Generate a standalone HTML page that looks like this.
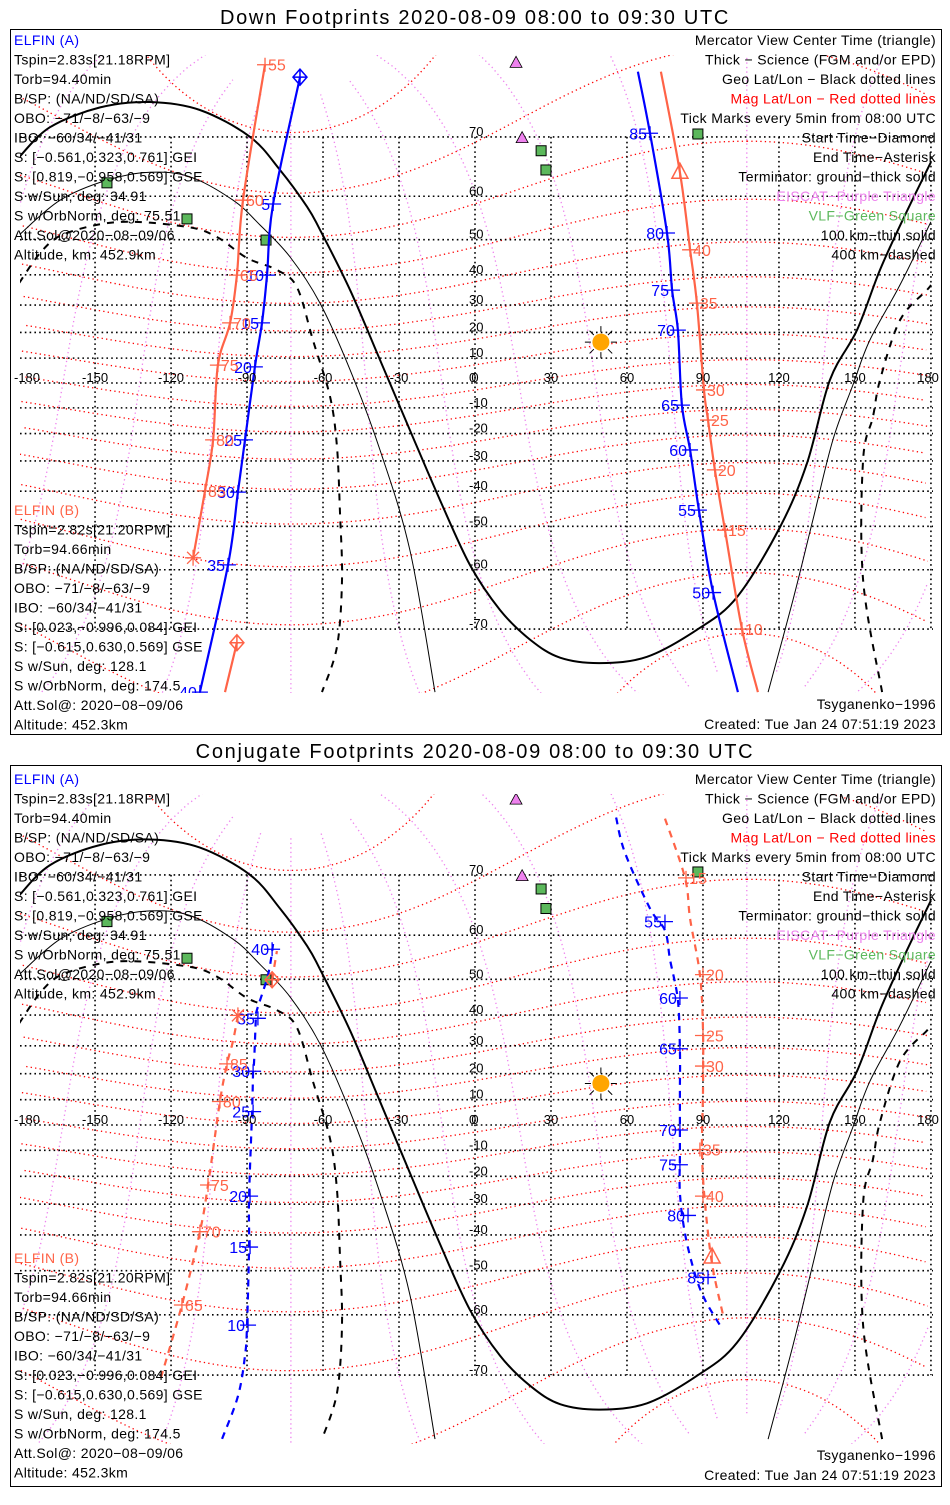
<!DOCTYPE html>
<html><head><meta charset="utf-8"><style>
html,body{margin:0;padding:0;background:#fff;}
svg text{font-family:"Liberation Sans",sans-serif;}
</style></head><body>
<svg id="chart" width="950" height="1500" viewBox="0 0 950 1500" xmlns="http://www.w3.org/2000/svg">
<rect x="0" y="0" width="950" height="1500" fill="#fff"/>
<text x="475" y="24" font-size="20" letter-spacing="1.7" text-anchor="middle">Down Footprints 2020-08-09 08:00 to 09:30 UTC</text>
<text x="475" y="758" font-size="20" letter-spacing="1.7" text-anchor="middle">Conjugate Footprints 2020-08-09 08:00 to 09:30 UTC</text>
<rect x="10.5" y="29.5" width="931" height="705" fill="none" stroke="#000"/>
<rect x="10.5" y="765.5" width="931" height="721" fill="none" stroke="#000"/>
<defs>
<clipPath id="clip0"><rect x="20" y="55" width="913" height="638"/></clipPath>
<clipPath id="clip1"><rect x="20" y="794" width="913" height="650"/></clipPath>
</defs>
<g id="p0" clip-path="url(#clip0)"></g>
<g id="p1" clip-path="url(#clip1)"></g>
<g id="labels"></g>
</svg>
<script>
// ---------- axis data ----------
const lonTicks = [-180,-150,-120,-90,-60,-30,0,30,60,90,120,150,180];
const lonTickLabels = ['-180','-150','-120','-90','-60','-30','0','30','60','90','120','150','180'];
const latTicks = [70,60,50,40,30,20,10,0,-10,-20,-30,-40,-50,-60,-70];
const latTickLabels = ['70','60','50','40','30','20','10','0','-10','-20','-30','-40','-50','-60','-70'];
const magLatLevels = [-80,-70,-60,-50,-40,-30,-20,-10,0,10,20,30,40,50,60,70,80];
const magLonLevels = [-180,-150,-120,-90,-60,-30,0,30,60,90,120,150];
const magPoleLat = 80.6;
const magPoleLon = -72.7;
// ---------- terminators ----------
const termGroundLon = [-180,-167.8,-148.0,-128.3,-108.6,-88.8,-77.0,-66.3,-61.2,-49.3,-37.5,-25.7,-13.8,-2.0,9.9,21.7,33.6,49.3,67.9,87.6,103.4,120.4,131.1,140.1,150.8,159.9,169.8,180];
const termGroundLat = [67.0,71.3,73.7,74.3,73.4,70.0,64.9,57.8,52.5,35.1,9.3,-18.7,-42.7,-59.0,-67.2,-71.4,-73.6,-74.2,-73.5,-70.1,-65.1,-50.2,-30.7,1.2,20.9,41.5,56.0,66.2];
const term100Lon = [-180,-163.8,-145.3,-128.3,-112.5,-95.5,-84.9,-73.0,-61.2,-49.3,-37.5,-25.7,-15.8];
const term100Lat = [51.2,59.2,63.1,64.5,63.7,59.2,53.7,45.3,30.7,5.3,-26.1,-55.8,-77.1];
const term100LonR = [115.7,125.5,133.4,141.3,149.2,155.9,167.8,180];
const term100LatR = [-77.1,-65.6,-48.3,-22.4,-0.8,17.1,36.8,54.4];
const term400Lon = [-180,-170.6,-161.1,-140.1,-113.7,-101.9,-90.0,-78.2,-70.3,-64.0,-57.2,-54.5,-53.3,-52.5,-54.5,-60.4];
const term400Lat = [37.4,47.3,51.7,54.4,53.2,50.7,45.0,41.5,36.1,17.1,-5.6,-25.0,-46.4,-62.0,-72.3,-77.1];
const term400LonR = [160.7,153.2,153.2,157.1,159.9,167.8,178.4,180];
const term400LatR = [-77.1,-62.0,-29.7,-13.6,1.2,24.6,35.1,36.8];
// ---------- sites ----------
const vlfLon = [-145.3,-113.7,-82.5,26.1,28.0,88.0];
const vlfLat = [62.6,55.1,49.9,68.0,64.9,70.4];
const eiscatLon = [16.2,18.6];
const eiscatLat = [78.1,69.9];
const sunLon = [49.7];
const sunLat = [16.3];
// ---------- Down: ELFIN A (blue) ----------
const downA1Lon = [-69.1,-79.7,-82.1,-84.1,-86.9,-90.8,-93.6,-97.5,-108.6];
const downA1Lat = [76.8,58.4,39.9,23.6,6.5,-22.4,-40.3,-59.0,-77.1];
const downA2Lon = [103.8,94.0,88.4,84.9,81.7,80.1,77.8,75.8,69.1,64.3];
const downA2Lat = [-77.1,-64.3,-45.6,-26.1,-8.9,20.9,35.1,51.7,70.5,77.3];
const downATickLon = [-79.7,-82.1,-84.1,-86.9,-90.8,-93.6,-97.5,-108.6,94.0,88.4,84.9,81.7,80.1,77.8,75.8,69.1];
const downATickLat = [58.4,39.9,23.6,6.5,-22.4,-40.3,-59.0,-77.1,-64.3,-45.6,-26.1,-8.9,20.9,35.1,51.7,70.5];
const downATickLabels = ['5','10','15','20','25','30','35','40','50','55','60','65','70','75','80','85'];
// ---------- Down: ELFIN B (red) ----------
const downB1Lon = [-94.0,-98.7];
const downB1Lat = [-71.8,-77.1];
const downB2Lon = [111.7,105.4,98.7,94.7,92.0,90.4,87.6,84.9,80.9,73.4];
const downB2Lat = [-77.1,-70.0,-51.0,-33.1,-14.8,-2.8,30.7,47.3,64.5,77.3];
const downB3Lon = [-82.9,-91.6,-94.0,-96.7,-101.5,-103.4,-106.6,-111.3];
const downB3Lat = [77.9,59.2,39.9,23.6,7.2,-22.4,-39.9,-57.5];
const downBTickLon = [105.4,98.7,94.7,92.0,90.4,87.6,84.9,-82.9,-91.6,-94.0,-96.7,-101.5,-103.4,-106.6];
const downBTickLat = [-70.0,-51.0,-33.1,-14.8,-2.8,30.7,47.3,77.9,59.2,39.9,23.6,7.2,-22.4,-39.9];
const downBTickLabels = ['10','15','20','25','30','35','40','55','60','65','70','75','80','85'];
// ---------- Conjugate: ELFIN A ----------
const conjA1Lon = [-79.7,-81.7,-86.1,-86.5,-87.2,-87.6,-88.0,-89.2,-89.2,-90.0,-90.8,-93.6,-99.9];
const conjA1Lat = [58.2,51.2,41.5,39.0,24.6,20.9,5.3,-27.2,-43.6,-62.0,-67.2,-72.7,-77.1];
const conjA2Lon = [55.7,59.2,69.1,75.0,77.0,80.1,80.9,80.9,80.9,80.9,82.9,86.9,90.8,96.7];
const conjA2Lat = [76.5,72.8,64.9,60.9,54.8,44.4,28.3,13.2,-10.8,-26.1,-39.6,-51.0,-56.9,-62.0];
const conjATickLon = [-80.1,-85.7,-87.6,-87.6,-88.8,-88.8,-89.6,75.0,80.9,80.9,80.9,80.9,84.1,92.0];
const conjATickLat = [57.1,39.0,20.9,5.3,-27.2,-43.6,-62.0,62.6,45.0,29.0,-2.0,-15.6,-33.8,-51.7];
const conjATickLabels = ['40','35','30','25','20','15','10','55','60','65','70','75','80','85'];
// ---------- Conjugate: ELFIN B ----------
const conjB1Lon = [-80.1,-78.2];
const conjB1Lat = [49.9,56.7];
const conjB2Lon = [75.0,82.9,84.9,88.8,90.0,90.0,89.6,90.8,93.6,97.9];
const conjB2Lat = [76.4,69.6,63.1,51.2,35.1,13.2,-10.8,-29.7,-48.3,-60.0];
const conjB3Lon = [-93.6,-95.5,-97.9,-100.7,-105.4,-108.6,-115.7,-124.4];
const conjB3Lat = [39.9,31.8,23.6,9.3,-23.2,-39.0,-58.0,-70.8];
const conjBTickLon = [83.3,90.0,90.0,90.0,88.8,90.0,-97.9,-100.7,-105.4,-108.6,-115.7];
const conjBTickLat = [69.6,51.2,33.5,22.8,-9.7,-27.2,23.6,9.3,-23.2,-39.0,-58.0];
const conjBTickLabels = ['15','20','25','30','35','40','85','80','75','70','65'];

const BLUE='#0000ff', RED='#ff6347';
const NS='http://www.w3.org/2000/svg';
const panels=[{y0:383,k:141.8,g:document.getElementById('p0')},{y0:1125,k:144.1,g:document.getElementById('p1')}];
function X(lon){return 475+lon*2.533;}
function Y(p,lat){const r=lat*Math.PI/180;return p.y0-p.k*Math.log(Math.tan(Math.PI/4+r/2));}
function mk(tag,parent,attrs){const e=document.createElementNS(NS,tag);for(const a in attrs)e.setAttribute(a,attrs[a]);parent.appendChild(e);return e;}
function pathD(p,lons,lats){let d='';for(let i=0;i<lons.length;i++){d+=(i?'L':'M')+X(lons[i]).toFixed(1)+' '+Y(p,lats[i]).toFixed(1);}return d;}
function smoothD(p,lons,lats){
  const P=lons.map((l,i)=>[X(l),Y(p,lats[i])]);
  if(P.length<3)return pathD(p,lons,lats);
  let d='M'+P[0][0].toFixed(1)+' '+P[0][1].toFixed(1);
  for(let i=0;i<P.length-1;i++){
    const p0=P[Math.max(0,i-1)],p1=P[i],p2=P[i+1],p3=P[Math.min(P.length-1,i+2)];
    const c1=[p1[0]+(p2[0]-p0[0])/6,p1[1]+(p2[1]-p0[1])/6],c2=[p2[0]-(p3[0]-p1[0])/6,p2[1]-(p3[1]-p1[1])/6];
    d+='C'+c1[0].toFixed(1)+' '+c1[1].toFixed(1)+' '+c2[0].toFixed(1)+' '+c2[1].toFixed(1)+' '+p2[0].toFixed(1)+' '+p2[1].toFixed(1);
  }
  return d;
}
function magToGeo(mlat,mlon){
  const a=mlat*Math.PI/180,b=mlon*Math.PI/180;
  let x=Math.cos(a)*Math.cos(b),y=Math.cos(a)*Math.sin(b),z=Math.sin(a);
  const t=(90-magPoleLat)*Math.PI/180,L=magPoleLon*Math.PI/180;
  const x1=x*Math.cos(t)+z*Math.sin(t),z1=-x*Math.sin(t)+z*Math.cos(t),y1=y;
  const x2=x1*Math.cos(L)-y1*Math.sin(L),y2=x1*Math.sin(L)+y1*Math.cos(L);
  return [Math.atan2(y2,x2)*180/Math.PI,Math.asin(Math.max(-1,Math.min(1,z1)))*180/Math.PI];
}
function magLine(p,g,pts,color,name){
  let d='',prev=null;
  for(const q of pts){const gg=magToGeo(q[0],q[1]);const x=X(gg[0]),y=Y(p,Math.max(-85,Math.min(85,gg[1])));
    if(prev===null||Math.abs(gg[0]-prev)>180)d+='M';else d+='L';d+=x.toFixed(1)+' '+y.toFixed(1);prev=gg[0];}
  const e=mk('path',g,{d:d,fill:'none',stroke:color,'stroke-width':1.3,'stroke-dasharray':'1.3 3.2'});
  
  
}
function drawTrack(p,g,lons,lats,color,dashed,name){
  const e=mk('path',g,{d:smoothD(p,lons,lats),fill:'none',stroke:color,'stroke-width':2.2});
  if(dashed)e.setAttribute('stroke-dasharray','7 6');
  
  
}
function drawTicks(p,g,lons,lats,labels,color,side,name){
  for(let i=0;i<lons.length;i++){
    const x=X(lons[i]),y=Y(p,lats[i]);
    const t=mk('path',g,{d:`M${x-8} ${y}L${x+8} ${y}M${x} ${y-7}L${x} ${y+7}`,stroke:color,'stroke-width':1.3,fill:'none'});
    
    
    const tx=mk('text',g,{x:side<0?x-3:x+3,y:y+6,'font-size':16,fill:color,'text-anchor':side<0?'end':'start'});
    tx.textContent=labels[i];
    
    
  }
}
function marker(g,kind,x,y,color,name){
  let e;
  if(kind==='diamond'){e=mk('path',g,{d:`M${x} ${y-8}L${x+7} ${y}L${x} ${y+8}L${x-7} ${y}ZM${x-7} ${y}L${x+7} ${y}M${x} ${y-8}L${x} ${y+8}`,fill:'none',stroke:color,'stroke-width':1.5});}
  else if(kind==='asterisk'){e=mk('path',g,{d:`M${x-8} ${y}L${x+8} ${y}M${x} ${y-8}L${x} ${y+8}M${x-6} ${y-6}L${x+6} ${y+6}M${x-6} ${y+6}L${x+6} ${y-6}`,fill:'none',stroke:color,'stroke-width':1.3});}
  else {e=mk('path',g,{d:`M${x} ${y-9}L${x+8} ${y+6}L${x-8} ${y+6}ZM${x} ${y-9}L${x} ${y+6}`,fill:'none',stroke:color,'stroke-width':1.5});}
  
  
}
function drawPanel(pi){
  const p=panels[pi],g=p.g;
  magLatLevels.forEach(ml=>{const pts=[];for(let lo=-180;lo<=180;lo+=3)pts.push([ml,lo]);magLine(p,g,pts,'#ff0000','mag-lat-line');});
  magLonLevels.forEach(ml=>{const pts=[];for(let la=-84;la<=84;la+=2)pts.push([la,ml]);magLine(p,g,pts,'#ee82ee','mag-lon-line');});
  latTicks.forEach(la=>{const y=Y(p,la);const e=mk('line',g,{x1:20,x2:933,y1:y,y2:y,stroke:'#000','stroke-width':1.6,'stroke-dasharray':'1.6 3.2'});
    
    });
  lonTicks.forEach(lo=>{const x=X(lo);const e=mk('line',g,{x1:x,x2:x,y1:Y(p,70),y2:Y(p,-70),stroke:'#000','stroke-width':1.6,'stroke-dasharray':'1.6 3.2'});
    
    });
  const lab=document.getElementById('labels');
  latTicks.forEach((la,i)=>{const t=mk('text',lab,{x:469,y:Y(p,la)-1,'font-size':13});t.textContent=latTickLabels[i];
    
    });
  lonTicks.forEach((lo,i)=>{const t=mk('text',lab,{x:Math.max(27,Math.min(X(lo),928)),y:Y(p,0)-1,'font-size':13,'text-anchor':'middle'});t.textContent=lonTickLabels[i];
    
    });
  const tg=mk('path',g,{d:smoothD(p,termGroundLon,termGroundLat),fill:'none',stroke:'#000','stroke-width':2});
  
  
  [[term100Lon,term100Lat],[term100LonR,term100LatR]].forEach(a=>{const e=mk('path',g,{d:smoothD(p,a[0],a[1]),fill:'none',stroke:'#000','stroke-width':1});
    
    });
  [[term400Lon,term400Lat],[term400LonR,term400LatR]].forEach(a=>{const e=mk('path',g,{d:smoothD(p,a[0],a[1]),fill:'none',stroke:'#000','stroke-width':2,'stroke-dasharray':'7 7'});
    
    });
  vlfLon.forEach((lo,i)=>{const x=X(lo),y=Y(p,vlfLat[i]);const e=mk('rect',g,{x:x-5,y:y-5,width:10,height:10,fill:'#5cb85c',stroke:'#000','stroke-width':1});
    
    });
  eiscatLon.forEach((lo,i)=>{const x=X(lo),y=Y(p,eiscatLat[i]);const e=mk('path',g,{d:`M${x} ${y-6}L${x+6} ${y+5}L${x-6} ${y+5}Z`,fill:'#ee82ee',stroke:'#000','stroke-width':0.8});
    
    });
  const sx=X(sunLon[0]),sy=Y(p,sunLat[0]);
  let rd='';for(let k=0;k<8;k++){const a=k*Math.PI/4;rd+=`M${sx+Math.cos(a)*10} ${sy+Math.sin(a)*10}L${sx+Math.cos(a)*16} ${sy+Math.sin(a)*16}`;}
  const sr=mk('path',g,{d:rd,stroke:'#000','stroke-width':1});
  
  
  const sc=mk('circle',g,{cx:sx,cy:sy,r:8.5,fill:'#ffa500'});
  
  
  if(pi===0){
    drawTrack(p,g,downA1Lon,downA1Lat,BLUE,false,'elfin-a-track');
    drawTrack(p,g,downA2Lon,downA2Lat,BLUE,false,'elfin-a-track');
    drawTrack(p,g,downB1Lon,downB1Lat,RED,false,'elfin-b-track');
    drawTrack(p,g,downB2Lon,downB2Lat,RED,false,'elfin-b-track');
    drawTrack(p,g,downB3Lon,downB3Lat,RED,false,'elfin-b-track');
    drawTicks(p,g,downATickLon,downATickLat,downATickLabels,BLUE,-1,'elfin-a');
    drawTicks(p,g,downBTickLon,downBTickLat,downBTickLabels,RED,1,'elfin-b');
    marker(g,'diamond',X(downA1Lon[0]),Y(p,downA1Lat[0]),BLUE,'elfin-a-start');
    marker(g,'diamond',X(downB1Lon[0]),Y(p,downB1Lat[0]),RED,'elfin-b-start');
    marker(g,'asterisk',X(downB3Lon[7]),Y(p,downB3Lat[7]),RED,'elfin-b-end');
    marker(g,'triangle',X(downB2Lon[8]),Y(p,downB2Lat[8]),RED,'elfin-b-center');
  } else {
    drawTrack(p,g,conjA1Lon,conjA1Lat,BLUE,true,'elfin-a-conj-track');
    drawTrack(p,g,conjA2Lon,conjA2Lat,BLUE,true,'elfin-a-conj-track');
    drawTrack(p,g,conjB1Lon,conjB1Lat,RED,true,'elfin-b-conj-track');
    drawTrack(p,g,conjB2Lon,conjB2Lat,RED,true,'elfin-b-conj-track');
    drawTrack(p,g,conjB3Lon,conjB3Lat,RED,true,'elfin-b-conj-track');
    drawTicks(p,g,conjATickLon,conjATickLat,conjATickLabels,BLUE,-1,'elfin-a-conj');
    drawTicks(p,g,conjBTickLon,conjBTickLat,conjBTickLabels,RED,1,'elfin-b-conj');
    marker(g,'diamond',X(conjB1Lon[0]),Y(p,conjB1Lat[0]),RED,'elfin-b-conj-start');
    marker(g,'asterisk',X(conjB3Lon[0]),Y(p,conjB3Lat[0]),RED,'elfin-b-conj-end');
    marker(g,'triangle',X(93.6),Y(p,-46.4),RED,'elfin-b-conj-center');
  }
}
drawPanel(0);drawPanel(1);
const infoA=['Tspin=2.83s[21.18RPM]','Torb=94.40min','B/SP: (NA/ND/SD/SA)','OBO: \u221271/\u22128/\u221263/\u22129','IBO: \u221260/34/\u221241/31','S: [\u22120.561,0.323,0.761] GEI','S: [0.819,\u22120.958,0.569] GSE','S w/Sun, deg: 34.91','S w/OrbNorm, deg: 75.51','Att.Sol@2020\u221208\u221209/06','Altitude, km: 452.9km'];
const infoB=['Tspin=2.82s[21.20RPM]','Torb=94.66min','B/SP: (NA/ND/SD/SA)','OBO: \u221271/\u22128/\u221263/\u22129','IBO: \u221260/34/\u221241/31','S: [0.023,\u22120.996,0.084] GEI','S: [\u22120.615,0.630,0.569] GSE','S w/Sun, deg: 128.1','S w/OrbNorm, deg: 174.5','Att.Sol@: 2020\u221208\u221209/06','Altitude: 452.3km'];
const legend=[['Mercator View Center Time (triangle)','#000'],['Thick \u2212 Science (FGM and/or EPD)','#000'],['Geo Lat/Lon \u2212 Black dotted lines','#000'],['Mag Lat/Lon \u2212 Red dotted lines','#ff0000'],['Tick Marks every 5min from 08:00 UTC','#000'],['Start Time\u2212Diamond','#000'],['End Time\u2212Asterisk','#000'],['Terminator: ground\u2212thick solid','#000'],['EISCAT\u2212Purple Triangle','#ee82ee'],['VLF\u2212Green Square','#5cb85c'],['100 km\u2212thin solid','#000'],['400 km\u2212dashed','#000']];
const lab=document.getElementById('labels');
function txt(s,x,y,color,anchor,name){const t=mk('text',lab,{x:x,y:y,'font-size':14,'letter-spacing':0.35,fill:color,'text-anchor':anchor});t.textContent=s;
  
  }
[[0,0,0],[739,748,751]].forEach((o,pi)=>{
  txt('ELFIN (A)',14,45+o[0],BLUE,'start','elfin-a-title');
  infoA.forEach((s,i)=>txt(s,14,45+19.5*(i+1)+o[0],'#000','start','elfin-a-info'));
  txt('ELFIN (B)',14,515+o[1],RED,'start','elfin-b-title');
  infoB.forEach((s,i)=>txt(s,14,515+19.5*(i+1)+o[1],'#000','start','elfin-b-info'));
  legend.forEach((l,i)=>txt(l[0],936,45+19.5*i+o[0],l[1],'end','legend-entry'));
  txt('Tsyganenko\u22121996',936,709+o[2],'#000','end','model-label');
  txt('Created: Tue Jan 24 07:51:19 2023',936,729+o[2],'#000','end','created-label');
});
</script>
</body></html>
